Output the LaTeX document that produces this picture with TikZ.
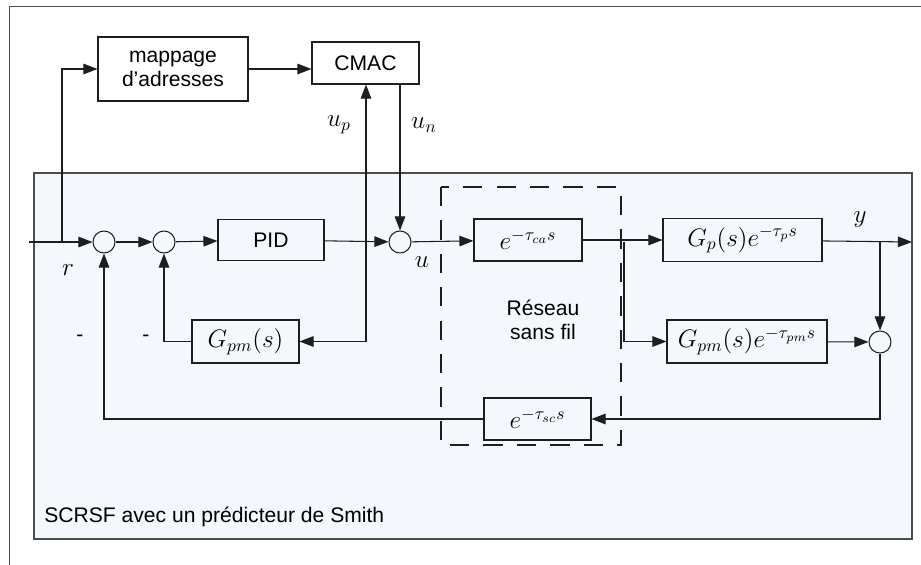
\documentclass[tikz,border=0pt]{standalone}
\usepackage{amsmath}
\usepackage{fontspec}
\setsansfont{Liberation Sans}
\usetikzlibrary{arrows.meta}
\definecolor{bgblue}{HTML}{F4F8FC}
\definecolor{linec}{HTML}{1E1E1E}
\begin{document}
\begin{tikzpicture}[x=0.02cm,y=-0.02cm,font=\sffamily\large,line width=0.6pt,draw=linec,
  blk/.style={draw,inner sep=0pt,minimum width=#1},
  sumc/.style={draw,circle,inner sep=0pt,minimum size=0.44cm},
  arr/.style={-{Triangle[length=8pt,width=6pt]}},
  mth/.style={font=\Large}]
\useasboundingbox (0,0) rectangle (921,565);
% frames
\draw[gray!60!black,line width=1pt] (9.5,565) -- (9.5,6.5) -- (921,6.5);
\draw[gray!60!black,line width=0.9pt,fill=bgblue] (34,173) rectangle (912,539);
\draw[dash pattern=on 11pt off 8pt] (441,187) rectangle (621,445);
% blocks
\node[blk=3cm,minimum height=1.28cm,align=center] (map) at (173,69) {mappage\\d'adresses};
\node[blk=2.14cm,minimum height=0.84cm] (cmac) at (365.5,63) {CMAC};
\node[sumc] (s1) at (104,242) {};
\node[sumc] (s2) at (164,242) {};
\node[blk=2.12cm,minimum height=0.82cm] (pid) at (271,240) {PID};
\node[sumc] (s3) at (400,242) {};
\node[blk=2.16cm,minimum height=0.84cm,mth] (dca) at (528,240) {$e^{-\tau_{ca}s}$};
\node[blk=3.18cm,minimum height=0.86cm,mth] (gp) at (742.5,240) {$G_p(s)e^{-\tau_p s}$};
\node[blk=3.2cm,minimum height=0.86cm,mth] (gpme) at (747,341.5) {$G_{pm}(s)e^{-\tau_{pm}s}$};
\node[sumc] (s4) at (880,342) {};
\node[blk=2.14cm,minimum height=0.84cm,mth] (dsc) at (537.5,419) {$e^{-\tau_{sc}s}$};
\node[blk=2.14cm,minimum height=0.86cm,mth] (gpm) at (245.5,341.5) {$G_{pm}(s)$};
% points
\coordinate (in) at (29,242);
\coordinate (br) at (62,242);
\coordinate (bu) at (366,242);
\coordinate (bgp) at (624,242);
\coordinate (by) at (880,242);
\coordinate (out) at (912,242);
% connectors
\draw[arr] (in) -- (s1);
\draw[arr] (br) |- (map.west);
\draw[arr] (map.east) -- (map.east -| cmac.west);
\draw[arr] (s1) -- (s2);
\draw[arr] (s2) -- (pid);
\draw[arr] (pid) -- (s3);
\draw[arr] (s3) -- (dca);
\draw[arr] (dca) -- (gp);
\draw[arr] (bgp) |- (gpme.west);
\draw[arr] (gp) -- (out);
\draw[arr] (by) -- (s4);
\draw[arr] (gpme) -- (s4);
\draw[arr] (s4) |- (dsc.east);
\draw[arr] (dsc.west) -| (s1);
\draw[arr] (bu) -- (bu |- cmac.south);
\draw[arr] (bu) |- (gpm.east);
\draw[arr] (cmac.south -| s3) -- (s3);
\draw[arr] (gpm.west) -| (s2);
% labels
\node[mth] (lr) at (68,270) {$r$};
\node[mth] (lu) at (422,262) {$u$};
\node[mth] (lup) at (339,125) {$u_p$};
\node[mth] (lun) at (424,125) {$u_n$};
\node[mth] (ly) at (860,220) {$y$};
\node (m1) at (80,338) {-};
\node (m2) at (146,338) {-};
\node[align=center] (res) at (543,320) {Réseau\\sans fil};
\node[anchor=west] (ttl) at (38,517) {SCRSF avec un prédicteur de Smith};
\end{tikzpicture}
\end{document}
